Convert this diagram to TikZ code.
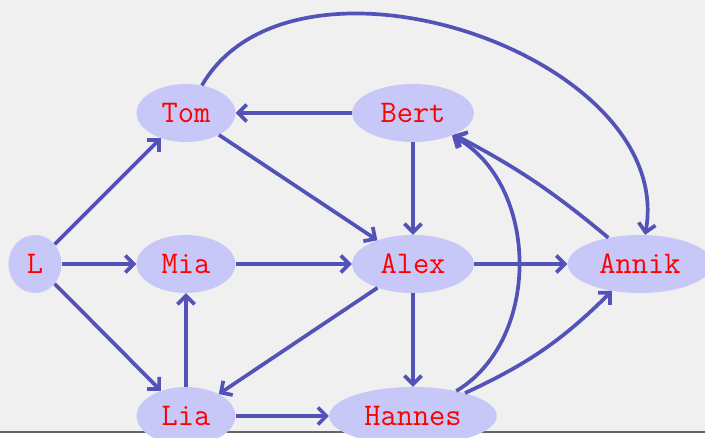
\documentclass[tikz,border=0pt]{standalone}
\usetikzlibrary{arrows.meta,shapes.geometric}
\definecolor{edgec}{RGB}{82,82,184}
\definecolor{nodefill}{RGB}{200,200,248}
\definecolor{bgc}{RGB}{240,240,240}
\definecolor{rulec}{RGB}{100,100,100}
\begin{document}
\begin{tikzpicture}[x=1pt,y=1pt,
  vnode/.style={ellipse, fill=nodefill, text=red,
    font=\fontsize{31.5}{38}\selectfont\ttfamily,
    inner sep=10.6pt, minimum height=58pt},
  link/.style={draw=edgec, line width=3.7pt,
    -{Straight Barb[length=8.5pt,width=17pt]}}]
  \useasboundingbox (0,0) rectangle (705,437);
  \fill[white] (0,0) rectangle (705,437);
  \fill[bgc] (0,4.7) rectangle (705,437);
  \draw[rulec, line width=2pt] (0,4.7) -- (705,4.7);

  \node[vnode] (L)      at (35,173)  {L};
  \node[vnode] (Tom)    at (186,324) {Tom};
  \node[vnode] (Bert)   at (413,324) {Bert};
  \node[vnode] (Mia)    at (186,173) {Mia};
  \node[vnode] (Alex)   at (413,173) {Alex};
  \node[vnode] (Annik)  at (640,173) {Annik};
  \node[vnode] (Lia)    at (186,21)  {Lia};
  \node[vnode] (Hannes) at (413,21)  {Hannes};

  \draw[link] (L) -- (Tom);
  \draw[link] (L) -- (Mia);
  \draw[link] (L) -- (Lia);
  \draw[link] (Tom) -- (Alex);
  \draw[link] (Bert) -- (Tom);
  \draw[link] (Bert) -- (Alex);
  \draw[link] (Mia) -- (Alex);
  \draw[link] (Alex) -- (Annik);
  \draw[link] (Alex) -- (Lia);
  \draw[link] (Alex) -- (Hannes);
  \draw[link] (Lia) -- (Mia);
  \draw[link] (Lia) -- (Hannes);
  \draw[link] (Tom) to[out=60,in=80] (Annik);
  \draw[link] (Hannes) to[bend right=60] (Bert);
  \draw[link] (Hannes) to[bend right=10] (Annik);
  \draw[link] (Annik) to[bend right=6] (Bert);
\end{tikzpicture}
\end{document}
